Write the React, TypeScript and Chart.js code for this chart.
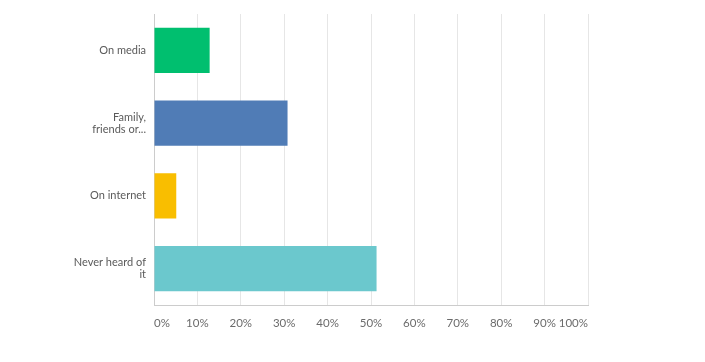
import React, { useEffect, useRef } from "react";
import { Chart, registerables } from "chart.js";

Chart.register(...registerables);

const categories: (string | string[])[] = [
  "On media",
  ["Family,", "friends or..."],
  "On internet",
  ["Never heard of", "it"],
];
const values = [12.82, 30.77, 5.13, 51.28];
const barColors = ["#00bf6f", "#507cb6", "#f9be00", "#6bc8cd"];
const xTicks = [0, 10, 20, 30, 40, 50, 60, 70, 80, 90, 100];

export default function App() {
  const ref = useRef<HTMLCanvasElement | null>(null);
  useEffect(() => {
    if (!ref.current) return;
    const chart = new Chart(ref.current, {
      type: "bar",
      data: {
        labels: categories as any,
        datasets: [
          {
            data: values,
            backgroundColor: barColors,
            borderWidth: 0,
            barPercentage: 0.62,
            categoryPercentage: 1,
          },
        ],
      },
      options: {
        indexAxis: "y",
        animation: false,
        responsive: false,
        maintainAspectRatio: false,
        layout: { padding: { top: 14, right: 117, left: 0, bottom: 0 } },
        plugins: { legend: { display: false }, tooltip: { enabled: false } },
        scales: {
          x: {
            min: 0,
            max: 100,
            afterBuildTicks: (scale: any) => {
              scale.ticks = xTicks.map((v) => ({ value: v }));
            },
            afterFit: (scale: any) => {
              scale.height = 57;
              scale.paddingLeft = 0;
              scale.paddingRight = 0;
            },
            grid: { color: "#e6e6e6", drawTicks: false, lineWidth: 1 },
            border: { color: "#cccccc", width: 1 },
            ticks: {
              align: "inner",
              padding: 11,
              color: "#6b6b6b",
              font: { family: "Lato", size: 11.5 },
              callback: (v: any) => v + "%",
            },
          },
          y: {
            afterFit: (scale: any) => {
              scale.width = 154;
              scale.paddingTop = 0;
              scale.paddingBottom = 0;
            },
            grid: { display: false, drawTicks: false },
            border: { color: "#cccccc", width: 1 },
            ticks: {
              padding: 8,
              color: "#5a5a5a",
              font: { family: "Lato", size: 11, lineHeight: 1.1 },
            },
          },
        },
      },
    });
    return () => chart.destroy();
  }, []);
  return (
    <div style={{ position: "fixed", left: 0, top: 0, width: 705, height: 362, background: "#fff" }}>
      <canvas ref={ref} width={705} height={362} style={{ display: "block" }} />
    </div>
  );
}
